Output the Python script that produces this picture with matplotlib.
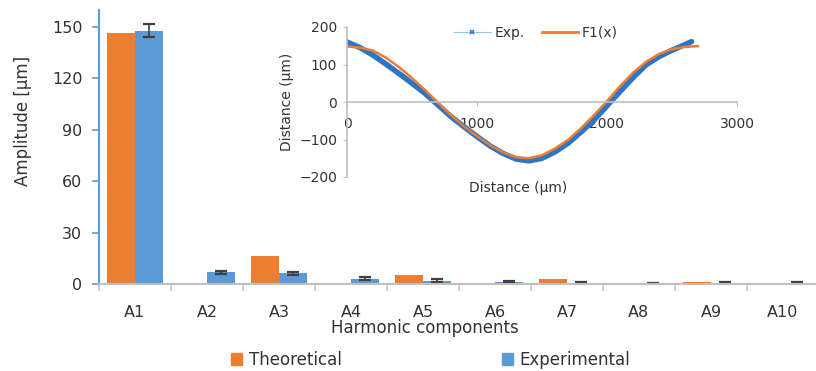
import numpy as np
import matplotlib.pyplot as plt
from matplotlib.lines import Line2D
from matplotlib.patches import Patch

plt.rcParams['font.family'] = ['DejaVu Sans']

# ---------- Data ----------
labels = ["A1", "A2", "A3", "A4", "A5", "A6", "A7", "A8", "A9", "A10"]
theoretical = [146.5, 0, 16.4, 0, 5.5, 0, 3.0, 0, 1.0, 0]
experimental = [148.0, 6.8, 6.2, 3.0, 2.0, 1.0, 0.8, 0.3, 0.5, 0.5]
exp_err = [4.0, 0.9, 0.8, 0.8, 0.8, 0.5, 0.6, 0.5, 0.4, 0.4]

# inset profile
exp_x = [0, 100, 200, 300, 400, 500, 600, 700, 800, 900, 1000, 1100, 1200,
         1300, 1400, 1500, 1600, 1700, 1800, 1900, 2000, 2100, 2200, 2300,
         2400, 2500, 2600, 2650]
exp_y = [160, 145, 125, 101, 76, 50, 23, -8, -39, -66, -92, -117, -137,
         -152, -157, -150, -133, -110, -80, -48, -10, 28, 65, 99,
         121, 138, 153, 161]
fit_x = [0, 100, 200, 300, 400, 500, 600, 700, 800, 900, 1000, 1100, 1200,
         1300, 1400, 1500, 1600, 1700, 1800, 1900, 2000, 2100, 2200, 2300,
         2400, 2500, 2600, 2700]
fit_y = [148, 145, 137, 118, 93, 64, 32, -2, -35, -65, -91, -115, -134,
         -147, -150, -142, -124, -101, -70, -35, 2, 42, 78, 107,
         128, 141, 147, 149]

orange = "#ED7D31"
blue = "#5B9BD5"
text_c = "#333333"
grid_c = "#BFBFBF"

fig = plt.figure(figsize=(8.16, 3.71), dpi=100)

# ---------- Main bar chart ----------
ax = fig.add_axes([99 / 816, 87 / 371, 720 / 816, 274 / 371])
x = np.arange(len(labels))
w = 0.39
ax.bar(x - w / 2, theoretical, w, color=orange, label="Theoretical")
ax.bar(x + w / 2, experimental, w, color=blue, label="Experimental")
ax.errorbar(x + w / 2, experimental, yerr=exp_err, fmt="none",
            ecolor="#404040", elinewidth=1.2, capsize=4, capthick=1.6)

ax.set_xlim(-0.5, len(labels) - 0.5)
ax.set_ylim(0, 160)
ax.set_yticks([0, 30, 60, 90, 120, 150])
ax.set_xticks(x)
ax.set_xticklabels(labels)
ax.set_xticks(np.arange(-0.5, len(labels), 1), minor=True)

for s in ["top", "right"]:
    ax.spines[s].set_visible(False)
ax.spines["left"].set_color(blue)
ax.spines["left"].set_linewidth(1.5)
ax.spines["bottom"].set_color(grid_c)
ax.spines["bottom"].set_linewidth(1.5)

ax.tick_params(axis="y", colors=blue, length=5, width=1.2, pad=7,
               labelcolor=text_c, labelsize=11.5)
ax.tick_params(axis="x", which="major", length=0, pad=15,
               labelcolor=text_c, labelsize=11.5)
ax.tick_params(axis="x", which="minor", length=5, width=1.2, color=grid_c)

ax.set_ylabel("Amplitude [μm]", fontsize=12, color=text_c)
ax.yaxis.set_label_coords(-0.093, 0.595)
ax.set_xlabel("Harmonic components", fontsize=12, color=text_c)
ax.xaxis.set_label_coords(0.452, -0.128)

fig.legend(handles=[Patch(color=orange, label="Theoretical"),
                    Patch(color=blue, label="Experimental")],
           loc="center", bbox_to_anchor=(0.528, 0.03), ncol=2, frameon=False,
           fontsize=12, handlelength=0.65, handleheight=0.65,
           handletextpad=0.4, columnspacing=9.65, labelcolor=text_c,
           borderpad=0.1)

# ---------- Inset ----------
ax2 = fig.add_axes([347 / 816, 194 / 371, 390 / 816, 150 / 371])
ax2.patch.set_alpha(0)
ax2.plot(exp_x, exp_y, color="#2E75C6", lw=4, solid_capstyle="round")
ax2.plot(fit_x, fit_y, color=orange, lw=1.8)
ax2.set_xlim(0, 3000)
ax2.set_ylim(-200, 200)
ax2.set_xticks([0, 1000, 2000, 3000])
ax2.set_yticks([-200, -100, 0, 100, 200])
for s in ["top", "right"]:
    ax2.spines[s].set_visible(False)
ax2.spines["bottom"].set_position(("data", 0))
for s in ["left", "bottom"]:
    ax2.spines[s].set_color(grid_c)
    ax2.spines[s].set_linewidth(1.2)
ax2.tick_params(axis="both", colors=grid_c, length=3, labelcolor=text_c,
                labelsize=10)
ax2.tick_params(axis="x", pad=8)
ax2.tick_params(axis="y", pad=4)
ax2.set_xlabel("Distance (µm)", fontsize=10, color=text_c)
ax2.xaxis.set_label_coords(0.44, -0.025)
ax2.set_ylabel("Distance (µm)", fontsize=10, color=text_c, labelpad=4)

h_exp = Line2D([0], [0], color="#9DC3E6", lw=0.8, marker="x", ms=3,
               mec="#2E75C6", mew=1.2, label="Exp.")
h_fit = Line2D([0], [0], color=orange, lw=2, label="F1(x)")
ax2.legend(handles=[h_exp, h_fit], loc="center", bbox_to_anchor=(0.485, 0.96),
           ncol=2, frameon=False, fontsize=10, handlelength=2.6,
           columnspacing=1.2, handletextpad=0.3, labelcolor=text_c)

fig.savefig("out.png", dpi=100)
